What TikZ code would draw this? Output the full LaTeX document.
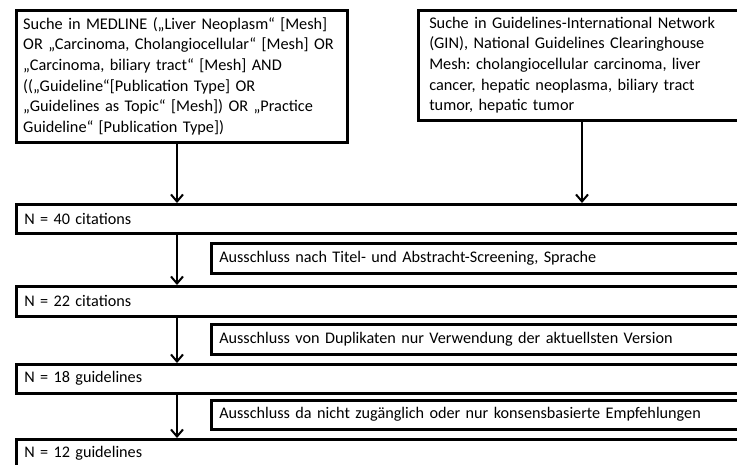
\documentclass[tikz,border=0pt]{standalone}
\usepackage{fontspec}
\setmainfont{Carlito}
\usetikzlibrary{arrows.meta}
\begin{document}
\frenchspacing
\begin{tikzpicture}[x=1pt,y=-1pt,
  box/.style={draw, line width=2.5pt, rectangle, anchor=north west, inner ysep=0pt, align=left},
  topbox/.style={box, font=\fontsize{16.3}{20.6}\selectfont},
  nbox/.style={box, inner xsep=8pt, minimum width=750pt, text width=734pt, font=\fontsize{16.2}{19}\selectfont},
  exbox/.style={box, inner xsep=8pt, minimum width=560pt, text width=544pt, font=\fontsize{16.2}{19}\selectfont},
  arr/.style={line width=2pt, -{Straight Barb[length=7pt,width=12pt,line width=2pt]}}]
\useasboundingbox (0,0) rectangle (737,464);
\clip (0,0) rectangle (737,464);
\fill[white] (0,0) rectangle (737,464);
\node[topbox, inner xsep=7pt, minimum width=331pt, text width=317pt, minimum height=132pt] (med) at (15,9)
 {Suche in MEDLINE („Liver Neoplasm“ [Mesh]\\
 OR „Carcinoma, Cholangiocellular“ [Mesh] OR\\
 „Carcinoma, biliary tract“ [Mesh] AND\\
 ((„Guideline“[Publication Type] OR\\
 „Guidelines as Topic“ [Mesh]) OR „Practice\\
 Guideline“ [Publication Type])};
\node[topbox, inner xsep=11pt, minimum width=340pt, text width=318pt, minimum height=110pt] (gin) at (417,9)
 {Suche in Guidelines-International Network\\
 (GIN), National Guidelines Clearinghouse\\
 Mesh: cholangiocellular carcinoma, liver\\
 cancer, hepatic neoplasma, biliary tract\\
 tumor, hepatic tumor};
\node[nbox, minimum height=29pt] (n40) at (15,203) {N = 40 citations};
\node[exbox, minimum height=30pt] (ex1) at (210,242) {Ausschluss nach Titel- und Abstracht-Screening, Sprache};
\node[nbox, minimum height=30pt] (n22) at (15,285) {N = 22 citations};
\node[exbox, minimum height=30pt] (ex2) at (210,323) {Ausschluss von Duplikaten nur Verwendung der aktuellsten Version};
\node[nbox, minimum height=29pt] (n18) at (15,363) {N = 18 guidelines};
\node[exbox, minimum height=29pt] (ex3) at (210,399) {Ausschluss da nicht zugänglich oder nur konsensbasierte Empfehlungen};
\node[nbox, minimum height=29pt] (n12) at (15,438) {N = 12 guidelines};
\coordinate (ax) at (177,0);
\coordinate (bx) at (582,0);
\draw[arr] (med.south -| ax) -- (n40.north -| ax);
\draw[arr] (gin.south -| bx) -- (n40.north -| bx);
\draw[arr] (n40.south -| ax) -- (n22.north -| ax);
\draw[arr] (n22.south -| ax) -- (n18.north -| ax);
\draw[arr] (n18.south -| ax) -- (n12.north -| ax);
\end{tikzpicture}
\end{document}
